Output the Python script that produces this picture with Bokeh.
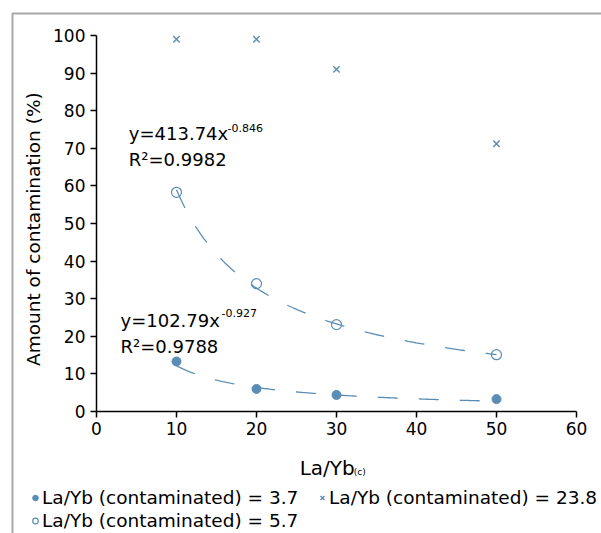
import numpy as np
from bokeh.plotting import figure
from bokeh.models import (Range1d, SingleIntervalTicker, Label, Legend, LegendItem,
                          BoxAnnotation)
from bokeh.embed import file_html
from bokeh.resources import INLINE

# ---- data ----
la_yb_c = [10, 20, 30, 50]
amount_37 = [13.3, 6.0, 4.4, 3.3]      # La/Yb (contaminated) = 3.7
amount_57 = [58.3, 34.0, 23.1, 15.1]   # La/Yb (contaminated) = 5.7
amount_238 = [99.0, 99.0, 91.0, 71.2]  # La/Yb (contaminated) = 23.8

# power trend lines printed on the chart: y = a * x^b, R^2
fit_57 = (413.74, -0.846, "0.9982")
fit_37 = (102.79, -0.927, "0.9788")

labels = ["La/Yb (contaminated) = 3.7",
          "La/Yb (contaminated) = 5.7",
          "La/Yb (contaminated) = 23.8"]

x_ticks_interval = 10
y_ticks_interval = 10

COL = "#5a8db5"
FONT = "DejaVu Sans"

# the frame covers the whole canvas; axes are pinned at 0 and bounded
p = figure(width=601, height=533, output_backend="svg", toolbar_location=None,
           x_range=Range1d(-12, 63.125), y_range=Range1d(-32.45, 109.31),
           min_border=0, min_border_left=0, min_border_right=0,
           min_border_top=0, min_border_bottom=0)
p.outline_line_color = None
p.xgrid.visible = False
p.ygrid.visible = False
p.background_fill_color = "white"
p.border_fill_color = "white"

xa, ya = p.xaxis[0], p.yaxis[0]
xa.fixed_location = 0
ya.fixed_location = 0
xa.bounds = (0, 60)
ya.bounds = (0, 100)
for ax in (xa, ya):
    ax.axis_line_color = "black"
    ax.axis_line_width = 1.5
    ax.major_tick_line_color = "black"
    ax.major_tick_line_width = 1.5
    ax.major_tick_out = 6
    ax.major_tick_in = 0
    ax.minor_tick_line_color = None
    ax.major_label_text_font = FONT
    ax.major_label_text_font_size = "17px"
    ax.major_label_text_color = "black"
    ax.major_label_standoff = 5
xa.ticker = SingleIntervalTicker(interval=x_ticks_interval)
ya.ticker = SingleIntervalTicker(interval=y_ticks_interval)

# trend lines
for a, b, _ in (fit_57, fit_37):
    xs = np.linspace(min(la_yb_c), max(la_yb_c), 200)
    p.line(xs, a * xs ** b, line_color=COL, line_width=1.3, line_dash="20 21")

r37 = p.scatter(la_yb_c, amount_37, marker="circle", size=9,
                fill_color=COL, line_color=COL)
r57 = p.scatter(la_yb_c, amount_57, marker="circle", size=10,
                fill_color=None, line_color=COL, line_width=1.2)
r238 = p.scatter(la_yb_c, amount_238, marker="x", size=9,
                 line_color=COL, line_width=1.4)

legend = Legend(items=[LegendItem(label=labels[0], renderers=[r37]),
                       LegendItem(label=labels[1], renderers=[r57]),
                       LegendItem(label=labels[2], renderers=[r238])],
                ncols=2, location=(28, 1), padding=0, margin=0, spacing=0,
                glyph_width=14, glyph_height=23, label_height=23, label_width=273,
                label_standoff=0, border_line_color=None, background_fill_alpha=0,
                label_text_font=FONT, label_text_font_size="18.5px",
                label_text_color="black")
p.add_layout(legend)

# axis titles
p.add_layout(Label(x=-7.9, y=48.5, text="Amount of contamination (%)", angle=np.pi / 2,
                   text_font=FONT, text_font_size="18.5px", text_align="center",
                   text_baseline="alphabetic", text_color="black"))
p.add_layout(Label(x=25.4, y=-14.9, text="La/Yb", text_font=FONT,
                   text_font_size="20px", text_baseline="alphabetic", text_color="black"))
p.add_layout(Label(x=32.15, y=-16.2, text="(c)", text_font=FONT,
                   text_font_size="9px", text_baseline="alphabetic", text_color="black"))

# equations
def eq(x, y, yr, fit, expx, expy):
    a, b, r2 = fit
    p.add_layout(Label(x=x, y=y, text=f"y={a:.2f}x", text_font=FONT,
                       text_font_size="18px", text_baseline="alphabetic", text_color="black"))
    p.add_layout(Label(x=expx, y=expy, text=f"{b:.3f}", text_font=FONT,
                       text_font_size="11px", text_baseline="alphabetic", text_color="black"))
    p.add_layout(Label(x=x, y=yr, text=f"R²={r2}", text_font=FONT,
                       text_font_size="18px", text_baseline="alphabetic", text_color="black"))

eq(4.04, 73.86, 66.94, fit_57, 16.375, 75.53)
eq(3.0, 24.2, 17.29, fit_37, 15.625, 26.14)

# grey frame around the figure (cropped at right/bottom)
p.add_layout(BoxAnnotation(left=12, right=800, top=13, bottom=800,
                           left_units="canvas", right_units="canvas",
                           top_units="canvas", bottom_units="canvas",
                           fill_alpha=0, line_color="#a8a8a8", line_alpha=1.0,
                           line_width=2))

open("out.html", "w").write(file_html(p, INLINE))
